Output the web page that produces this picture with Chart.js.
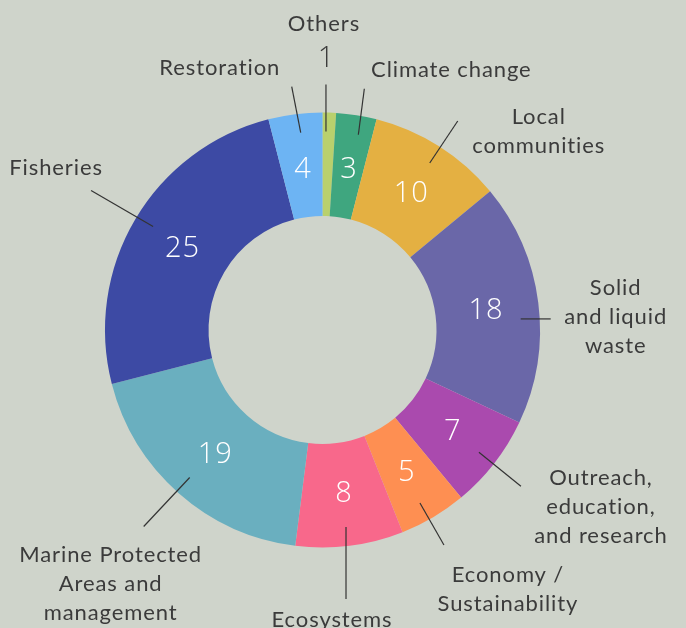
<!DOCTYPE html>
<html>
<head>
<meta charset="utf-8">
<script src="https://cdn.jsdelivr.net/npm/chart.js@4.4.1/dist/chart.umd.min.js"></script>
<style>
    html, body { margin: 0; padding: 0; background: #cfd4cb; }
    canvas { display: block; }
</style>
</head>
<body>
<canvas id="chart" width="686" height="628"></canvas>
<script>
// data, clockwise from the top
const categories = ['Others', 'Climate change', 'Local communities', 'Solid and liquid waste',
    'Outreach, education, and research', 'Economy / Sustainability', 'Ecosystems',
    'Marine Protected Areas and management', 'Fisheries', 'Restoration'];
const values = [1, 3, 10, 18, 7, 5, 8, 19, 25, 4];
const labelLines = [
    ['Others'],
    ['Climate change'],
    ['Local', 'communities'],
    ['Solid', 'and liquid', 'waste'],
    ['Outreach,', 'education,', 'and research'],
    ['Economy /', 'Sustainability'],
    ['Ecosystems'],
    ['Marine Protected', 'Areas and', 'management'],
    ['Fisheries'],
    ['Restoration']
];
const colors = ['#b9d06d', '#3fa67f', '#e4b042', '#6a67a8', '#aa4aae',
    '#fe8f52', '#f8688b', '#6aafbf', '#3d4aa4', '#6db4f3'];

// leader line layout: angle tweak (deg), line vector, text offset from line end
const leaders = [
    { da: -0.8, ex: 0, ey: -47, tx: -2, ty: -54, valueOutside: true },
    { da: 1.4, ex: 6, ey: -46, tx: 87, ty: -12 },
    { da: 0.3, ex: 28, ey: -42, tx: 81, ty: 3 },
    { da: 4, ex: 30, ey: 0, tx: 65, ty: -24 },
    { da: 0.2, ex: 42, ey: 34, tx: 80, ty: -1 },
    { da: 1.2, ex: 24, ey: 42, tx: 64, ty: 37 },
    { da: 0.4, ex: 0, ey: 72, tx: -14, ty: 28 },
    { da: 0.6, ex: -46, ey: 49, tx: -33, ty: 35 },
    { da: 0.8, ex: -62, ey: -36, tx: -35, ty: -16 },
    { da: 0.9, ex: -9, ey: -46, tx: -72, ty: -12 }
];

const LABEL_FONT = '22px Lato, "Open Sans", sans-serif';
const VALUE_FONT = '300 29px "Open Sans", Lato, sans-serif';

const labelPlugin = {
    id: 'labels',
    afterDatasetsDraw(chart) {
        const ctx = chart.ctx;
        const arcs = chart.getDatasetMeta(0).data;
        ctx.save();
        ctx.textAlign = 'center';
        ctx.textBaseline = 'alphabetic';
        arcs.forEach(function(arc, i) {
            const p = arc.getProps(['x', 'y', 'startAngle', 'endAngle', 'innerRadius', 'outerRadius']);
            const mid = (p.startAngle + p.endAngle) / 2;
            const lay = leaders[i];

            // value inside the slice
            if (!lay.valueOutside) {
                const rv = (p.innerRadius + p.outerRadius) / 2 - 2;
                ctx.fillStyle = '#ffffff';
                ctx.font = VALUE_FONT;
                ctx.letterSpacing = '1px';
                ctx.fillText(String(values[i]), p.x + Math.cos(mid) * rv + 1, p.y + Math.sin(mid) * rv + 10);
            }

            // leader line
            const a = mid + lay.da * Math.PI / 180;
            const r1 = p.outerRadius - 19;
            const sx = p.x + Math.cos(a) * r1;
            const sy = p.y + Math.sin(a) * r1;
            const exx = sx + lay.ex;
            const eyy = sy + lay.ey;
            ctx.strokeStyle = '#333333';
            ctx.lineWidth = 1.2;
            ctx.beginPath();
            ctx.moveTo(sx, sy);
            ctx.lineTo(exx, eyy);
            ctx.stroke();

            // category label
            ctx.fillStyle = '#3b3b3b';
            ctx.font = LABEL_FONT;
            ctx.letterSpacing = '0.9px';
            labelLines[i].forEach(function(line, k) {
                ctx.fillText(line, exx + lay.tx, eyy + lay.ty + k * 29);
            });

            if (lay.valueOutside) {
                ctx.font = VALUE_FONT;
                ctx.letterSpacing = '0px';
                ctx.fillText(String(values[i]), exx, eyy - 18);
            }
        });
        ctx.restore();
    }
};

new Chart(document.getElementById('chart'), {
    type: 'doughnut',
    data: {
        labels: categories,
        datasets: [{
            data: values,
            backgroundColor: colors,
            borderWidth: 0
        }]
    },
    options: {
        responsive: false,
        animation: false,
        devicePixelRatio: 1,
        cutout: '52.4%',
        layout: { padding: { left: 105, right: 146, top: 112.5, bottom: 80.5 } },
        plugins: {
            legend: { display: false },
            tooltip: { enabled: false }
        }
    },
    plugins: [labelPlugin]
});
</script>
</body>
</html>
